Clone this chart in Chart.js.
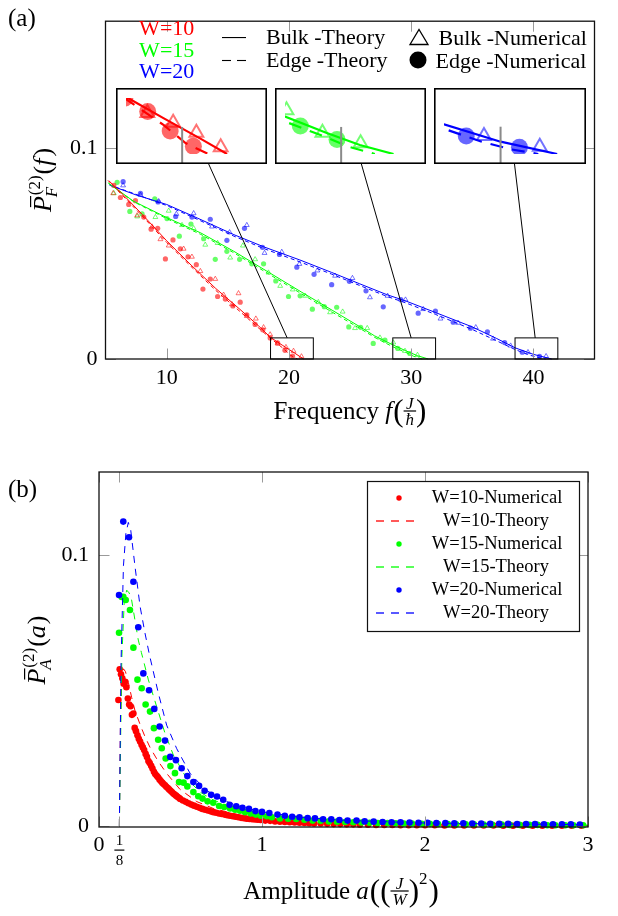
<!DOCTYPE html>
<html>
<head>
<meta charset="utf-8">
<script src="https://cdn.jsdelivr.net/npm/chart.js@4.4.1/dist/chart.umd.min.js"></script>
<style>
html,body{margin:0;padding:0;background:#fff;}
body{width:618px;height:916px;position:relative;overflow:hidden;}
canvas{position:absolute;display:block;}
</style>
</head>
<body>
<canvas id="chartA" width="618" height="440" style="left:0;top:0;width:618px;height:440px"></canvas>
<canvas id="chartB" width="618" height="476" style="left:0;top:440px;width:618px;height:476px"></canvas>
<script>
// ================= DATA : panel (a) =================
const xTicksA = [10, 20, 30, 40];
const xTickLabelsA = ['10', '20', '30', '40'];
const yTicksA = [0, 0.1];
const yTickLabelsA = ['0', '0.1'];
const widthLabels = ['W=10', 'W=15', 'W=20'];
const spyRangesX = [[18.5, 22], [28.5, 32], [38.5, 42]];
const spyRangeY = [0, 0.01];

// W=10
const red_bulkTheory = [[5.3,0.0843],[6.5,0.0775],[8.0,0.0685],[10.0,0.0560],[12.0,0.0445],[14.0,0.0335],[16.0,0.0235],[17.5,0.0158],[18.5,0.0102],[19.5,0.0064],[20.5,0.0027],[21.2,0]];
const red_edgeTheory = [[5.2,0.0846],[6.5,0.0768],[8.0,0.0678],[10.0,0.0552],[12.0,0.0438],[14.0,0.0326],[16.0,0.0225],[17.5,0.0148],[18.5,0.0098],[19.5,0.0052],[20.1,0.0019],[20.7,0]];
const red_bulkNum = [[5.63,0.0785],[7.59,0.0680],[8.81,0.0627],[9.49,0.0567],[10.17,0.0537],[11.39,0.0522],[12.07,0.0484],[12.76,0.0416],[13.98,0.0379],[14.66,0.0304],[15.34,0.0259],[15.88,0.0311],[16.56,0.0203],[17.30,0.0191],[17.93,0.0150],[18.47,0.0116],[19.07,0.0073],[19.76,0.0056],[20.38,0.0038],[21.03,0.0012]];
const red_edgeNum = [[5.68,0.0822],[6.22,0.0765],[6.90,0.0732],[7.45,0.0750],[8.13,0.0672],[8.73,0.0615],[9.27,0.0619],[9.90,0.0474],[10.52,0.0564],[11.12,0.0522],[11.75,0.0484],[12.43,0.0447],[12.97,0.0331],[13.57,0.0379],[14.17,0.0296],[14.80,0.0284],[15.42,0.0251],[16.02,0.0269],[16.56,0.0209],[17.24,0.0164],[17.87,0.0138],[18.47,0.0100],[19.08,0.0076],[19.68,0.0041],[20.30,0.0014]];
// W=15
const green_bulkTheory = [[5.3,0.0830],[7.3,0.0747],[10.0,0.0670],[12.8,0.0597],[15.5,0.0510],[18.2,0.0416],[21.0,0.0318],[23.6,0.0229],[25.8,0.0153],[27.0,0.0110],[28.5,0.0067],[29.6,0.0038],[30.5,0.0016],[31.4,0]];
const green_edgeTheory = [[5.2,0.0835],[7.3,0.0745],[10.0,0.0665],[12.8,0.0590],[15.5,0.0503],[18.2,0.0408],[21.0,0.0310],[23.6,0.0220],[25.8,0.0145],[27.0,0.0103],[28.5,0.0058],[29.6,0.0030],[30.2,0.0013],[30.9,0]];
const green_bulkNum = [[5.68,0.0785],[7.59,0.0675],[9.08,0.0672],[10.17,0.0702],[11.26,0.0634],[12.21,0.0619],[13.16,0.0541],[14.17,0.0549],[15.20,0.0480],[16.24,0.0537],[17.24,0.0472],[18.33,0.0409],[19.29,0.0346],[20.32,0.0329],[21.33,0.0299],[22.41,0.0269],[23.37,0.0221],[24.40,0.0224],[25.41,0.0146],[26.41,0.0146],[27.45,0.0101],[28.54,0.0078],[29.50,0.0038],[30.52,0.0019]];
const green_edgeNum = [[5.95,0.0837],[6.99,0.0699],[7.99,0.0687],[9.03,0.0758],[10.03,0.0665],[11.04,0.0582],[11.99,0.0639],[13.03,0.0570],[13.98,0.0472],[14.93,0.0510],[15.97,0.0472],[16.97,0.0451],[17.93,0.0451],[18.93,0.0370],[19.97,0.0296],[20.92,0.0299],[21.92,0.0236],[22.90,0.0248],[23.91,0.0245],[24.90,0.0152],[25.87,0.0150],[26.90,0.0074],[27.86,0.0089],[28.91,0.0050],[29.89,0.0026]];
// W=20
const blue_bulkTheory = [[5.4,0.0822],[7.5,0.0777],[10.0,0.0732],[12.5,0.0668],[15.5,0.0589],[18.0,0.0530],[20.9,0.0469],[23.5,0.0410],[25.8,0.0356],[28.0,0.0305],[29.6,0.0274],[32.0,0.0220],[35.0,0.0152],[37.0,0.0097],[38.5,0.0053],[40.0,0.0022],[41.5,0]];
const blue_edgeTheory = [[5.3,0.0825],[7.5,0.0780],[10.0,0.0727],[12.5,0.0662],[15.5,0.0582],[18.0,0.0522],[20.9,0.0460],[23.5,0.0402],[25.8,0.0348],[28.0,0.0297],[29.6,0.0265],[32.0,0.0211],[35.0,0.0140],[37.0,0.0086],[38.5,0.0045],[39.5,0.0022],[40.3,0.0008],[41.0,0]];
const blue_bulkNum = [[6.44,0.0822],[7.86,0.0777],[9.35,0.0747],[10.80,0.0687],[12.21,0.0690],[13.71,0.0627],[15.15,0.0600],[16.56,0.0634],[18.01,0.0502],[19.42,0.0507],[20.86,0.0450],[22.33,0.0419],[23.78,0.0394],[25.20,0.0383],[26.63,0.0292],[28.07,0.0299],[29.54,0.0281],[30.99,0.0236],[32.40,0.0191],[33.84,0.0171],[35.29,0.0150],[36.70,0.0096],[38.14,0.0063],[39.56,0.0032],[41.04,0.0013]];
const blue_edgeNum = [[6.44,0.0840],[7.86,0.0785],[9.30,0.0744],[10.74,0.0675],[12.07,0.0672],[13.57,0.0662],[14.93,0.0562],[16.37,0.0619],[17.84,0.0529],[19.23,0.0495],[20.65,0.0435],[22.06,0.0401],[23.50,0.0352],[24.95,0.0368],[26.31,0.0323],[27.72,0.0247],[29.16,0.0281],[30.58,0.0217],[31.99,0.0227],[33.44,0.0174],[34.85,0.0146],[36.24,0.0129],[37.65,0.0078],[39.09,0.0032],[40.50,0.0012]];

// ================= DATA : panel (b) =================
const xTicksB = [0, 0.125, 1, 2, 3];
const xTickLabelsB = ['0', '1/8', '1', '2', '3'];
const yTicksB = [0, 0.1];
const yTickLabelsB = ['0', '0.1'];
const legendLabelsB = ['W=10-Numerical', 'W=10-Theory', 'W=15-Numerical', 'W=15-Theory', 'W=20-Numerical', 'W=20-Theory'];

const red_ampNum = [[0.119,0.0465],[0.127,0.0578],[0.135,0.0560],[0.143,0.0545],[0.151,0.0525],[0.160,0.0532],[0.168,0.0512],[0.177,0.0470],[0.185,0.0448],[0.194,0.0442],[0.202,0.0410],[0.211,0.0415],[0.219,0.0362],[0.227,0.0350],[0.236,0.0335],[0.244,0.0322],[0.252,0.0312],[0.261,0.0300],[0.269,0.0290],[0.277,0.0280],[0.286,0.0266],[0.294,0.0255],[0.303,0.0240],[0.311,0.0232],[0.320,0.0222],[0.328,0.0212],[0.337,0.0200],[0.345,0.0192],[0.354,0.0185],[0.362,0.0180],[0.371,0.0172],[0.379,0.0166],[0.388,0.0160],[0.396,0.0155],[0.405,0.0150],[0.413,0.0145],[0.422,0.0140],[0.430,0.0135],[0.439,0.0130],[0.447,0.0125],[0.456,0.0120],[0.464,0.0116],[0.473,0.0112],[0.481,0.0108],[0.490,0.0104],[0.498,0.0100],[0.515,0.0094],[0.532,0.0089],[0.549,0.0084],[0.566,0.0079],[0.583,0.0075],[0.600,0.0071],[0.617,0.0067],[0.634,0.0063],[0.651,0.0060],[0.668,0.0057],[0.685,0.0054],[0.702,0.0051],[0.719,0.0049],[0.736,0.0046],[0.753,0.0044],[0.770,0.0042],[0.787,0.0040],[0.804,0.0038],[0.821,0.0036],[0.838,0.0034],[0.855,0.0032],[0.872,0.0030],[0.889,0.0029],[0.906,0.0027],[0.923,0.0026],[0.940,0.0025],[0.957,0.0024],[0.974,0.0023],[0.991,0.0022],[1.02,0.0020],[1.05,0.0019],[1.08,0.0017],[1.11,0.0016],[1.14,0.0015],[1.17,0.0014],[1.20,0.0013],[1.23,0.0012],[1.26,0.0011],[1.29,0.0010],[1.32,0.0009],[1.36,0.0009],[1.40,0.0008],[1.44,0.0007],[1.48,0.0007],[1.52,0.0006],[1.56,0.0006],[1.60,0.0005],[1.65,0.0005],[1.70,0.0004],[1.75,0.0004],[1.80,0.0004],[1.85,0.0003],[1.90,0.0003],[1.95,0.0003],[2.00,0.0003],[2.06,0.0003],[2.12,0.0002],[2.18,0.0002],[2.24,0.0002],[2.30,0.0002],[2.36,0.0002],[2.42,0.0002],[2.48,0.0001],[2.54,0.0001],[2.60,0.0001],[2.66,0.0001],[2.72,0.0001],[2.78,0.0001],[2.84,0.0001],[2.90,0.0001],[2.96,0.0001]];
const green_ampNum = [[0.123,0.0713],[0.139,0.0845],[0.149,0.0846],[0.164,0.0834],[0.190,0.0797],[0.211,0.0658],[0.236,0.0540],[0.262,0.0508],[0.286,0.0448],[0.313,0.0422],[0.337,0.0361],[0.363,0.0318],[0.385,0.0287],[0.409,0.0249],[0.438,0.0221],[0.466,0.0195],[0.491,0.0162],[0.519,0.0160],[0.542,0.0146],[0.579,0.0125],[0.609,0.0110],[0.635,0.0101],[0.666,0.0091],[0.701,0.0086],[0.737,0.0074],[0.768,0.0070],[0.804,0.0065],[0.835,0.0060],[0.865,0.0056],[0.896,0.0051],[0.931,0.0046],[0.962,0.0042],[0.993,0.0038],[1.03,0.0036],[1.06,0.0032],[1.11,0.0028],[1.16,0.0027],[1.21,0.0026],[1.26,0.0023],[1.31,0.0020],[1.36,0.0019],[1.41,0.0017],[1.46,0.0016],[1.51,0.0015],[1.56,0.0014],[1.61,0.0013],[1.66,0.0012],[1.71,0.0011],[1.77,0.0011],[1.82,0.0010],[1.87,0.0009],[1.92,0.0009],[1.98,0.0008],[2.03,0.0008],[2.08,0.0007],[2.14,0.0007],[2.19,0.0006],[2.25,0.0006],[2.30,0.0006],[2.36,0.0005],[2.41,0.0005],[2.47,0.0005],[2.52,0.0004],[2.58,0.0004],[2.64,0.0004],[2.69,0.0004],[2.75,0.0003],[2.80,0.0003],[2.86,0.0003],[2.91,0.0003],[2.97,0.0003]];
const blue_ampNum = [[0.123,0.0852],[0.149,0.1123],[0.184,0.1065],[0.211,0.0901],[0.241,0.0733],[0.272,0.0563],[0.307,0.0501],[0.339,0.0432],[0.372,0.0367],[0.405,0.0315],[0.437,0.0255],[0.472,0.0243],[0.507,0.0213],[0.542,0.0184],[0.579,0.0162],[0.614,0.0148],[0.648,0.0130],[0.688,0.0115],[0.724,0.0109],[0.762,0.0097],[0.801,0.0078],[0.842,0.0073],[0.880,0.0067],[0.920,0.0063],[0.960,0.0055],[1.000,0.0052],[1.045,0.0048],[1.095,0.0042],[1.140,0.0038],[1.185,0.0034],[1.230,0.0032],[1.280,0.0029],[1.325,0.0028],[1.375,0.0025],[1.425,0.0025],[1.475,0.0022],[1.525,0.0020],[1.580,0.0020],[1.630,0.0017],[1.685,0.0016],[1.740,0.0015],[1.795,0.0014],[1.850,0.0014],[1.905,0.0013],[1.960,0.0012],[2.015,0.0012],[2.070,0.0011],[2.125,0.0011],[2.180,0.0010],[2.235,0.0010],[2.290,0.0009],[2.345,0.0009],[2.400,0.0008],[2.455,0.0008],[2.510,0.0008],[2.565,0.0007],[2.620,0.0007],[2.675,0.0007],[2.730,0.0006],[2.785,0.0006],[2.840,0.0006],[2.895,0.0006],[2.950,0.0005]];
const red_ampTheory = [[0.125,0],[0.132,0.040],[0.140,0.054],[0.150,0.058],[0.162,0.057],[0.180,0.053],[0.200,0.0475],[0.221,0.0425],[0.258,0.0365],[0.282,0.0330],[0.313,0.0290],[0.344,0.0258],[0.364,0.0238],[0.415,0.0194],[0.497,0.0135],[0.600,0.0090],[0.700,0.0065],[0.850,0.0042],[1.0,0.0028],[1.25,0.0016],[1.5,0.0010],[2.0,0.0005],[2.5,0.0003],[3.0,0.0002]];
const green_ampTheory = [[0.125,0],[0.140,0.062],[0.155,0.083],[0.170,0.087],[0.185,0.086],[0.200,0.0834],[0.241,0.0686],[0.260,0.0640],[0.303,0.0539],[0.354,0.0440],[0.405,0.0342],[0.456,0.0262],[0.538,0.0175],[0.620,0.0125],[0.701,0.0096],[0.800,0.0072],[1.0,0.0042],[1.25,0.0026],[1.5,0.0017],[2.0,0.0009],[2.5,0.0005],[3.0,0.0003]];
const blue_ampTheory = [[0.125,0],[0.135,0.060],[0.150,0.096],[0.165,0.108],[0.180,0.112],[0.195,0.109],[0.221,0.0957],[0.252,0.0810],[0.282,0.0712],[0.310,0.0630],[0.364,0.0490],[0.415,0.0372],[0.477,0.0285],[0.558,0.0195],[0.650,0.0135],[0.750,0.0098],[0.850,0.0075],[1.0,0.0052],[1.25,0.0032],[1.5,0.0021],[2.0,0.0011],[2.5,0.0007],[3.0,0.0005]];

// ================= STYLE / LAYOUT =================
const SERIF = '"Liberation Serif", "DejaVu Serif", serif';
const RED = [255, 0, 0], GREEN = [0, 255, 0], BLUE = [0, 0, 255];
const rgba = (c, a) => 'rgba(' + c[0] + ',' + c[1] + ',' + c[2] + ',' + a + ')';
const fnt = (s, it) => (it ? 'italic ' : '') + s + 'px ' + SERIF;
const TICK_LEN = 10.5;
const TICK_COL = '#9a9a9a';
const INSETS = [{left:116, top:88, w:151, h:76}, {left:275, top:88, w:151, h:76}, {left:434, top:88, w:152, h:76}];
const pts = arr => arr.map(p => ({x: p[0], y: p[1]}));

Chart.defaults.font.family = SERIF;
Chart.defaults.color = '#000';

const seriesA = [
  {c: RED, bulkTh: red_bulkTheory, edgeTh: red_edgeTheory, bulkNum: red_bulkNum, edgeNum: red_edgeNum},
  {c: GREEN, bulkTh: green_bulkTheory, edgeTh: green_edgeTheory, bulkNum: green_bulkNum, edgeNum: green_edgeNum},
  {c: BLUE, bulkTh: blue_bulkTheory, edgeTh: blue_edgeTheory, bulkNum: blue_bulkNum, edgeNum: blue_edgeNum}
];
function datasetsA(k) {
  const out = [];
  seriesA.forEach(s => {
    out.push({data: pts(s.bulkTh), showLine: true, borderColor: rgba(s.c, 1), borderWidth: k.lw, pointRadius: 0, order: 0, clip: k.clip});
    out.push({data: pts(s.edgeTh), showLine: true, borderColor: rgba(s.c, 1), borderWidth: k.lw, borderDash: k.dash, pointRadius: 0, order: 0, clip: k.clip});
    out.push({data: pts(s.bulkNum), showLine: false, pointStyle: 'triangle', pointRadius: k.tr, pointBackgroundColor: 'rgba(0,0,0,0)', pointBorderColor: rgba(s.c, 0.55), pointBorderWidth: k.tlw, order: 1, clip: k.clip});
    out.push({data: pts(s.edgeNum), showLine: false, pointStyle: 'circle', pointRadius: k.cr, pointBackgroundColor: rgba(s.c, 0.6), pointBorderColor: rgba(s.c, 0.6), pointBorderWidth: 0, order: 1, clip: k.clip});
  });
  return out;
}

// ----- text helpers -----
function runSeq(ctx, items, x, y, draw) {
  let cur = x;
  for (const it of items) {
    if (it.frac) {
      ctx.font = fnt(it.s, true);
      const wn = ctx.measureText(it.frac[0]).width, wd = ctx.measureText(it.frac[1]).width;
      const w = Math.max(wn, wd) + 4;
      if (draw) {
        const by = y - it.axis;
        ctx.fillText(it.frac[0], cur + (w - wn) / 2, by - 2.5);
        ctx.fillText(it.frac[1], cur + (w - wd) / 2, by + it.s * 0.72 + 1.5);
        ctx.fillRect(cur, by - 0.6, w, 1.2);
      }
      cur += w + (it.gap || 0);
    } else if (it.ss) {
      ctx.font = fnt(it.s, it.i);
      const w1 = ctx.measureText(it.ss[0]).width, w2 = ctx.measureText(it.ss[1]).width;
      if (draw) {
        ctx.font = fnt(it.s, false);
        ctx.fillText(it.ss[0], cur, y - it.up);
        ctx.font = fnt(it.s, true);
        ctx.fillText(it.ss[1], cur - 2, y + it.down);
      }
      cur += Math.max(w1, w2) + (it.gap || 0);
    } else {
      ctx.font = fnt(it.s, it.i);
      const w = ctx.measureText(it.t).width;
      if (draw) {
        ctx.fillText(it.t, cur, y + (it.dy || 0));
        if (it.bar) ctx.fillRect(cur + it.bar[0], y - it.bar[1], w * it.bar[2], 1.2);
      }
      cur += w + (it.gap || 0);
    }
  }
  return cur - x;
}
function drawCentered(ctx, items, cx, y) {
  const w = runSeq(ctx, items, 0, y, false);
  runSeq(ctx, items, cx - w / 2, y, true);
}
function drawRotated(ctx, items, bx, cy) {
  ctx.save();
  ctx.translate(bx, cy);
  ctx.rotate(-Math.PI / 2);
  drawCentered(ctx, items, 0, 0);
  ctx.restore();
}
function frameAndTicks(chart) {
  const ctx = chart.ctx, a = chart.chartArea, sx = chart.scales.x, sy = chart.scales.y;
  ctx.save();
  ctx.strokeStyle = TICK_COL; ctx.lineWidth = 1;
  ctx.beginPath();
  sx.ticks.forEach(t => {
    const px = Math.round(sx.getPixelForValue(t.value)) + 0.5;
    ctx.moveTo(px, a.bottom); ctx.lineTo(px, a.bottom - TICK_LEN);
    ctx.moveTo(px, a.top); ctx.lineTo(px, a.top + TICK_LEN);
  });
  sy.ticks.forEach(t => {
    const py = Math.round(sy.getPixelForValue(t.value)) + 0.5;
    ctx.moveTo(a.left, py); ctx.lineTo(a.left + TICK_LEN, py);
    ctx.moveTo(a.right, py); ctx.lineTo(a.right - TICK_LEN, py);
  });
  ctx.stroke();
  ctx.strokeStyle = '#111'; ctx.lineWidth = 1.3;
  ctx.strokeRect(a.left, a.top, a.right - a.left, a.bottom - a.top);
  ctx.restore();
}
// dashed sample drawn as filled segments
function dashSample(ctx, x0, x1, y, dash, gap, col, lw) {
  ctx.fillStyle = col;
  for (let x = x0; x < x1; x += dash + gap) ctx.fillRect(x, y - lw / 2, Math.min(dash, x1 - x), lw);
}
const whiteBg = {id: 'whiteBg', beforeDraw(chart) { const c = chart.ctx; c.save(); c.fillStyle = '#fff'; c.fillRect(0, 0, chart.width, chart.height); c.restore(); }};

// ================= CHART (a) =================
const panelAPlugin = {
  id: 'panelA',
  afterDraw(chart) {
    const ctx = chart.ctx, sx = chart.scales.x, sy = chart.scales.y;
    frameAndTicks(chart);
    ctx.save();
    // spy rectangles and connection lines
    ctx.strokeStyle = '#000'; ctx.lineWidth = 1;
    spyRangesX.forEach((r, i) => {
      const x0 = sx.getPixelForValue(r[0]), x1 = sx.getPixelForValue(r[1]);
      const y0 = sy.getPixelForValue(spyRangeY[1]), y1 = sy.getPixelForValue(spyRangeY[0]);
      ctx.strokeRect(x0, y0, x1 - x0, y1 - y0);
      const b = INSETS[i];
      const cx = b.left + b.w / 2, cy = b.top + b.h / 2, rx = (x0 + x1) / 2, ry = (y0 + y1) / 2;
      const t1 = (b.top + b.h - cy) / (ry - cy), t2 = (y0 - cy) / (ry - cy);
      ctx.beginPath();
      ctx.moveTo(cx + t1 * (rx - cx), b.top + b.h);
      ctx.lineTo(cx + t2 * (rx - cx), y0);
      ctx.stroke();
    });
    // legend
    ctx.textBaseline = 'alphabetic';
    ctx.textAlign = 'center';
    ctx.font = fnt(22, false);
    [RED, GREEN, BLUE].forEach((c, i) => { ctx.fillStyle = rgba(c, 1); ctx.fillText(widthLabels[i], 166.7, 35 + i * 21.7); });
    ctx.fillStyle = '#000';
    ctx.textAlign = 'left';
    ctx.fillText('Bulk -Theory', 266, 44);
    ctx.fillText('Edge -Theory', 266, 67);
    ctx.fillText('Bulk -Numerical', 438.5, 45);
    ctx.fillText('Edge -Numerical', 435.5, 68);
    ctx.fillRect(222, 37, 24, 1.1);
    dashSample(ctx, 222, 246, 60.5, 9, 6, '#000', 1.1);
    ctx.strokeStyle = '#000'; ctx.lineWidth = 1.3;
    ctx.beginPath(); ctx.moveTo(410, 44.5); ctx.lineTo(428, 44.5); ctx.lineTo(419, 29.5); ctx.closePath(); ctx.stroke();
    ctx.fillStyle = '#000';
    ctx.beginPath(); ctx.arc(418, 60, 8.5, 0, Math.PI * 2); ctx.fill();
    // panel label
    ctx.font = fnt(25, false);
    ctx.fillText('(a)', 8, 26);
    // axis titles
    drawCentered(ctx, [
      {t: 'Frequency ', s: 25}, {t: 'f', s: 25, i: true, gap: 1}, {t: '(', s: 31, dy: 2},
      {frac: ['J', 'ħ'], s: 17, axis: 8}, {t: ')', s: 31, dy: 2}
    ], 350, 419);
    drawRotated(ctx, [
      {t: 'P', s: 26, i: true, bar: [5, 21, 0.7], gap: 1}, {ss: ['(2)', 'F'], s: 17, up: 11, down: 6, gap: 1},
      {t: '(', s: 26}, {t: 'f', s: 26, i: true, gap: 2}, {t: ')', s: 26}
    ], 51, 180);
    ctx.restore();
  }
};

const chartA = new Chart(document.getElementById('chartA'), {
  type: 'scatter',
  data: {datasets: datasetsA({lw: 1, dash: [4, 3], tr: 2.8, tlw: 1, cr: 2.6, clip: false})},
  options: {
    responsive: false, animation: false, devicePixelRatio: 1, events: [],
    layout: {padding: {left: 0, top: 4.3, right: 23.5, bottom: 0}},
    plugins: {legend: {display: false}, tooltip: {enabled: false}},
    scales: {
      x: {type: 'linear', min: 5, max: 45,
        afterBuildTicks: ax => { ax.ticks = xTicksA.map(v => ({value: v})); },
        afterFit: s => { s.height = 81; },
        grid: {display: false, drawTicks: false}, border: {display: false},
        ticks: {padding: 6, autoSkip: false, maxRotation: 0, font: {size: 22}, color: '#000', callback: (v, i) => xTickLabelsA[i]}},
      y: {type: 'linear', min: 0, max: 0.16,
        afterBuildTicks: ax => { ax.ticks = yTicksA.map(v => ({value: v})); },
        afterFit: s => { s.width = 105.5; },
        grid: {display: false, drawTicks: false}, border: {display: false},
        ticks: {padding: 8, autoSkip: false, font: {size: 22}, color: '#000', callback: (v, i) => yTickLabelsA[i]}}
    }
  },
  plugins: [whiteBg, panelAPlugin]
});

// ----- insets (magnified views of the spy rectangles) -----
const mainPxPerUnit = chartA.scales.x.getPixelForValue(1) - chartA.scales.x.getPixelForValue(0);
INSETS.forEach((b, i) => {
  const cv = document.createElement('canvas');
  cv.width = b.w; cv.height = b.h;
  cv.style.left = b.left + 'px'; cv.style.top = b.top + 'px';
  cv.style.width = b.w + 'px'; cv.style.height = b.h + 'px';
  document.body.appendChild(cv);
  const rng = spyRangesX[i];
  const zoom = b.w / ((rng[1] - rng[0]) * mainPxPerUnit);
  new Chart(cv, {
    type: 'scatter',
    data: {datasets: datasetsA({lw: 2.2, dash: [13, 9], tr: 8, tlw: 2, cr: 8.5, clip: 0})},
    options: {
      responsive: false, animation: false, devicePixelRatio: 1, events: [],
      layout: {padding: 0},
      plugins: {legend: {display: false}, tooltip: {enabled: false}},
      scales: {
        x: {type: 'linear', min: rng[0], max: rng[1], display: false},
        y: {type: 'linear', min: spyRangeY[0], max: spyRangeY[1], display: false}
      }
    },
    plugins: [whiteBg, {
      id: 'insetFrame',
      afterDraw(chart) {
        const ctx = chart.ctx, sx = chart.scales.x;
        ctx.save();
        ctx.strokeStyle = '#8a8a8a'; ctx.lineWidth = 2;
        xTicksA.filter(v => v >= rng[0] && v <= rng[1]).forEach(v => {
          const px = sx.getPixelForValue(v);
          ctx.beginPath(); ctx.moveTo(px, b.h); ctx.lineTo(px, b.h - TICK_LEN * zoom); ctx.stroke();
        });
        ctx.strokeStyle = '#000'; ctx.lineWidth = 1.6;
        ctx.strokeRect(0.8, 0.8, b.w - 1.6, b.h - 1.6);
        ctx.restore();
      }
    }]
  });
});

// ================= CHART (b) =================
const seriesB = [
  {c: RED, num: red_ampNum, th: red_ampTheory},
  {c: GREEN, num: green_ampNum, th: green_ampTheory},
  {c: BLUE, num: blue_ampNum, th: blue_ampTheory}
];
const datasetsB = [];
seriesB.forEach((s, i) => {
  datasetsB.push({data: pts(s.num), showLine: false, pointStyle: 'circle', pointRadius: 3.3, pointBackgroundColor: rgba(s.c, 1), pointBorderWidth: 0, order: 6 - 2 * i, clip: false});
  datasetsB.push({data: pts(s.th), showLine: true, borderColor: rgba(s.c, 1), borderWidth: 1, borderDash: [7, 6], pointRadius: 0, order: 5 - 2 * i, clip: false});
});

const panelBPlugin = {
  id: 'panelB',
  afterDraw(chart) {
    const ctx = chart.ctx, sx = chart.scales.x;
    frameAndTicks(chart);
    ctx.save();
    // fraction tick label 1/8
    const px = sx.getPixelForValue(xTicksB[1]);
    ctx.fillStyle = '#000';
    ctx.textAlign = 'center';
    ctx.textBaseline = 'alphabetic';
    ctx.font = fnt(15, false);
    const parts = xTickLabelsB[1].split('/');
    ctx.fillText(parts[0], px, 405);
    ctx.fillRect(px - 5, 409.5, 10, 1.2);
    ctx.fillText(parts[1], px, 425);
    // legend
    const L = {x: 367, y: 41, w: 212, h: 150};
    ctx.fillStyle = '#fff';
    ctx.fillRect(L.x, L.y, L.w, L.h);
    ctx.strokeStyle = '#111'; ctx.lineWidth = 1.2;
    ctx.strokeRect(L.x + 0.5, L.y + 0.5, L.w, L.h);
    ctx.font = fnt(18.5, false);
    ctx.textBaseline = 'middle';
    seriesB.forEach((s, i) => {
      const yN = 58 + i * 46, yT = 81 + i * 46;
      const col = rgba(s.c, 1);
      ctx.fillStyle = col;
      ctx.beginPath(); ctx.arc(399, yN, 2.7, 0, Math.PI * 2); ctx.fill();
      dashSample(ctx, 376, 418, yT, 8, 7, col, 1.3);
      ctx.fillStyle = '#000';
      ctx.fillText(legendLabelsB[2 * i], 497, yN);
      ctx.fillText(legendLabelsB[2 * i + 1], 496, yT);
    });
    // panel label + titles
    ctx.textAlign = 'left';
    ctx.textBaseline = 'alphabetic';
    ctx.font = fnt(25, false);
    ctx.fillText('(b)', 8, 57);
    drawCentered(ctx, [
      {t: 'Amplitude ', s: 25}, {t: 'a', s: 25, i: true, gap: 1}, {t: '(', s: 31, dy: 2}, {t: '(', s: 31, dy: 2},
      {frac: ['J', 'W'], s: 17, axis: 8}, {t: ')', s: 31, dy: 2}, {t: '2', s: 17, dy: -15, gap: 1}, {t: ')', s: 31, dy: 2}
    ], 341, 459);
    drawRotated(ctx, [
      {t: 'P', s: 26, i: true, bar: [5, 21, 0.7], gap: 1}, {ss: ['(2)', 'A'], s: 17, up: 11, down: 6, gap: 1},
      {t: '(', s: 26}, {t: 'a', s: 26, i: true, gap: 1}, {t: ')', s: 26}
    ], 45, 210);
    ctx.restore();
  }
};

new Chart(document.getElementById('chartB'), {
  type: 'scatter',
  data: {datasets: datasetsB},
  options: {
    responsive: false, animation: false, devicePixelRatio: 1, events: [],
    layout: {padding: {left: 0, top: 32, right: 30, bottom: 0}},
    plugins: {legend: {display: false}, tooltip: {enabled: false}},
    scales: {
      x: {type: 'linear', min: 0, max: 3,
        afterBuildTicks: ax => { ax.ticks = xTicksB.map(v => ({value: v})); },
        afterFit: s => { s.height = 89; },
        grid: {display: false, drawTicks: false}, border: {display: false},
        ticks: {padding: 5, autoSkip: false, maxRotation: 0, font: {size: 22}, color: '#000',
          callback: (v, i) => (xTickLabelsB[i].indexOf('/') >= 0 ? '' : xTickLabelsB[i])}},
      y: {type: 'linear', min: -0.00037, max: 0.1306,
        afterBuildTicks: ax => { ax.ticks = yTicksB.map(v => ({value: v})); },
        afterFit: s => { s.width = 99; },
        grid: {display: false, drawTicks: false}, border: {display: false},
        ticks: {padding: 10, autoSkip: false, font: {size: 22}, color: '#000', callback: (v, i) => yTickLabelsB[i]}}
    }
  },
  plugins: [whiteBg, panelBPlugin]
});
</script>
</body>
</html>
